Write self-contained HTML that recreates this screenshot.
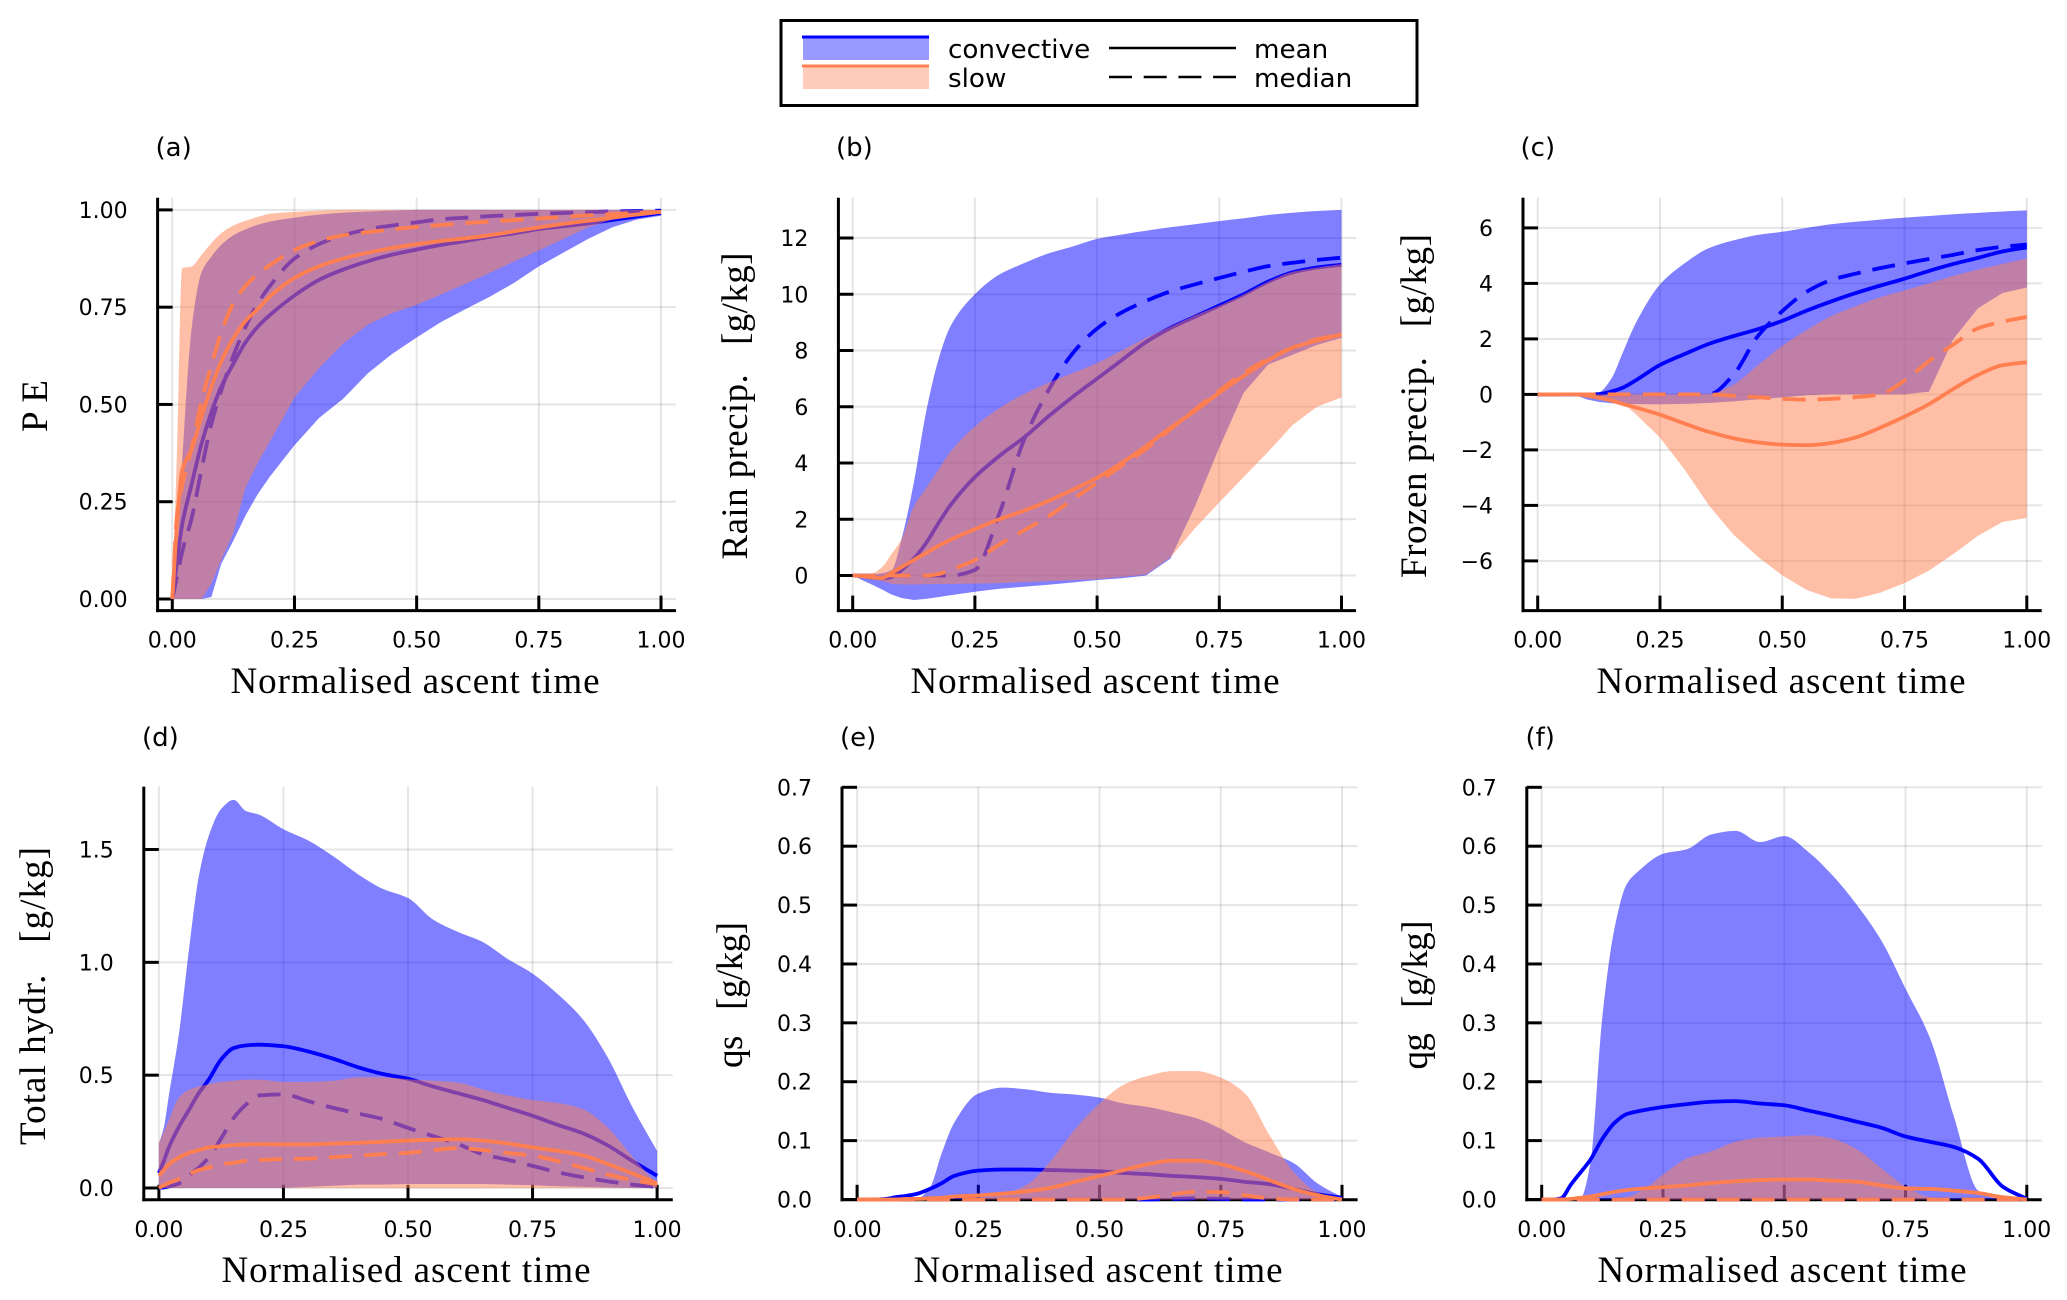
<!DOCTYPE html>
<html lang="en">
<head>
<meta charset="utf-8">
<title>Normalised ascent time composites</title>
<style>
html,body{margin:0;padding:0;background:#fff;}
svg{display:block;}
.tick{font-family:"DejaVu Sans","Liberation Sans",sans-serif;font-size:22px;fill:#000;}
.panel-letter{font-family:"DejaVu Sans","Liberation Sans",sans-serif;font-size:26px;fill:#000;}
.legend-text{font-family:"DejaVu Sans","Liberation Sans",sans-serif;font-size:26.2px;fill:#000;}
.axis-title{font-family:"Liberation Serif",serif;font-size:37px;fill:#000;}
</style>
</head>
<body>
<svg id="figure" xmlns="http://www.w3.org/2000/svg" width="2067" height="1300" viewBox="0 0 2067 1300">
<rect x="0" y="0" width="2067" height="1300" fill="#fff"/>

<g>
  <rect x="781" y="20.5" width="636" height="85" fill="#fff" stroke="#000" stroke-width="3"/>
  <rect x="803" y="37" width="126" height="23" fill="#0000ff" fill-opacity="0.4"/>
  <line x1="802" y1="37" x2="929" y2="37" stroke="#0000ff" stroke-width="3"/>
  <rect x="803" y="66" width="126" height="23" fill="#ff7f50" fill-opacity="0.4"/>
  <line x1="802" y1="66" x2="929" y2="66" stroke="#ff7f50" stroke-width="3"/>
  <text class="legend-text" x="948" y="58">convective</text>
  <text class="legend-text" x="948" y="87">slow</text>
  <line x1="1109" y1="48" x2="1236" y2="48" stroke="#000" stroke-width="2.5"/>
  <line x1="1109" y1="77" x2="1236" y2="77" stroke="#000" stroke-width="2.5" stroke-dasharray="23 11.7"/>
  <text class="legend-text" x="1254" y="58">mean</text>
  <text class="legend-text" x="1254" y="87">median</text>
</g>

<g id="panel-a"></g>
<g id="panel-b"></g>
<g id="panel-c"></g>
<g id="panel-d"></g>
<g id="panel-e"></g>
<g id="panel-f"></g>

<g>
  <text class="panel-letter" x="155.5" y="156">(a)</text>
  <text class="panel-letter" x="836" y="156">(b)</text>
  <text class="panel-letter" x="1520.5" y="156">(c)</text>
  <text class="panel-letter" x="142" y="746">(d)</text>
  <text class="panel-letter" x="840" y="746">(e)</text>
  <text class="panel-letter" x="1525.5" y="746">(f)</text>
</g>

<g>
  <text class="axis-title" x="415" y="693" text-anchor="middle" textLength="369" lengthAdjust="spacing">Normalised ascent time</text>
  <text class="axis-title" x="1095" y="693" text-anchor="middle" textLength="369" lengthAdjust="spacing">Normalised ascent time</text>
  <text class="axis-title" x="1781" y="693" text-anchor="middle" textLength="369" lengthAdjust="spacing">Normalised ascent time</text>
  <text class="axis-title" x="406" y="1282" text-anchor="middle" textLength="369" lengthAdjust="spacing">Normalised ascent time</text>
  <text class="axis-title" x="1098" y="1282" text-anchor="middle" textLength="369" lengthAdjust="spacing">Normalised ascent time</text>
  <text class="axis-title" x="1782" y="1282" text-anchor="middle" textLength="369" lengthAdjust="spacing">Normalised ascent time</text>
</g>

<g>
  <text class="axis-title" transform="translate(47 406) rotate(-90)" text-anchor="middle" textLength="52" lengthAdjust="spacing">PE</text>
  <text class="axis-title" transform="translate(747 406) rotate(-90)" text-anchor="middle" textLength="307" lengthAdjust="spacing" xml:space="preserve">Rain precip.   [g/kg]</text>
  <text class="axis-title" transform="translate(1426 406) rotate(-90)" text-anchor="middle" textLength="344" lengthAdjust="spacing" xml:space="preserve">Frozen precip.   [g/kg]</text>
  <text class="axis-title" transform="translate(45 996) rotate(-90)" text-anchor="middle" textLength="298" lengthAdjust="spacing" xml:space="preserve">Total hydr.   [g/kg]</text>
  <text class="axis-title" transform="translate(742 995) rotate(-90)" text-anchor="middle" textLength="146" lengthAdjust="spacing" xml:space="preserve">qs   [g/kg]</text>
  <text class="axis-title" transform="translate(1427 995) rotate(-90)" text-anchor="middle" textLength="149" lengthAdjust="spacing" xml:space="preserve">qg   [g/kg]</text>
</g>
</svg>

<script>
// Shared normalised ascent time samples
const timeGrid = [0,.01,.02,.04,.06,.08,.1,.125,.15,.175,.2,.25,.3,.35,.4,.45,.5,.55,.6,.65,.7,.75,.8,.85,.9,.95,1];
const xTickValues = [0,.25,.5,.75,1];
const xTickLabels = ['0.00','0.25','0.50','0.75','1.00'];

// Panel (a) PE
const aTickValues = [0,.25,.5,.75,1];
const aTickLabels = ['0.00','0.25','0.50','0.75','1.00'];
const aConvHi = [0,.12,.35,.70,.84,.88,.91,.935,.95,.962,.97,.98,.988,.993,.996,.998,1,1,1,1,1,1,1,1,1,1,1];
const aConvLo = [0,0,0,0,0,.005,.09,.15,.215,.27,.315,.395,.465,.515,.58,.63,.672,.712,.745,.777,.813,.855,.89,.925,.955,.975,.985];
const aConvMean = [0,.10,.19,.297,.40,.48,.545,.605,.66,.70,.73,.78,.82,.847,.868,.885,.898,.91,.92,.931,.94,.951,.958,.965,.974,.983,.992];
const aConvMedian = [0,.06,.12,.21,.335,.45,.535,.625,.70,.76,.805,.875,.912,.935,.95,.96,.968,.976,.98,.984,.987,.99,.992,.994,.996,.997,.998];
const aSlowHi = [0,.4,.85,.855,.885,.915,.94,.96,.972,.982,.99,.995,.998,1,1,1,1,1,1,1,1,1,1,1,1,1,1];
const aSlowLo = [0,0,0,0,0,.04,.10,.17,.287,.35,.405,.518,.593,.657,.705,.735,.756,.783,.81,.838,.868,.896,.925,.955,.975,.988,.995];
const aSlowMean = [0,.2,.33,.385,.47,.545,.61,.67,.715,.745,.778,.825,.855,.875,.89,.902,.912,.92,.927,.935,.945,.955,.964,.972,.98,.988,.995];
const aSlowMedian = [0,.22,.29,.39,.51,.60,.685,.76,.805,.835,.858,.897,.92,.935,.943,.95,.956,.961,.966,.97,.974,.978,.982,.986,.989,.992,.995];

// Panel (b) Rain precip.
const bTickValues = [0,2,4,6,8,10,12];
const bTickLabels = ['0','2','4','6','8','10','12'];
const bConvHi = [0,0,0,.03,.08,.2,1.3,3.3,5.8,7.65,8.86,10,10.7,11.1,11.45,11.7,11.97,12.12,12.26,12.38,12.49,12.6,12.7,12.82,12.9,12.96,13];
const bConvLo = [0,-.08,-.17,-.33,-.5,-.68,-.8,-.87,-.83,-.77,-.7,-.58,-.47,-.4,-.33,-.25,-.16,-.1,0,.6,2.45,4.55,6.5,7.5,7.85,8.2,8.45];
const bConvMean = [0,-.01,-.03,-.07,-.1,-.05,.2,.6,1.15,1.85,2.5,3.5,4.25,4.9,5.65,6.35,7,7.65,8.3,8.8,9.2,9.6,10,10.45,10.78,10.95,11.05];
const bConvMedian = [0,0,0,0,0,0,0,0,0,0,0,.2,2.2,4.8,6.57,7.9,8.78,9.35,9.76,10.1,10.35,10.58,10.8,11,11.12,11.22,11.3];
const bSlowHi = [0,.02,.04,.07,.3,.78,1.3,2.45,3.1,3.75,4.4,5.3,5.95,6.45,6.85,7.2,7.55,8,8.45,8.85,9.25,9.6,10,10.45,10.8,10.95,11.07];
const bSlowLo = [0,-.03,-.07,-.13,-.2,-.3,-.32,-.32,-.31,-.3,-.3,-.29,-.27,-.24,-.2,-.17,-.13,-.05,.03,.65,1.67,2.6,3.5,4.4,5.35,6,6.33];
const bSlowMean = [0,-.01,-.03,-.07,-.09,.1,.3,.55,.8,1.05,1.27,1.65,2,2.3,2.65,3.05,3.47,4,4.6,5.25,5.85,6.5,7.1,7.65,8.1,8.35,8.57];
const bSlowMedian = [0,0,0,0,0,0,0,0,0,.05,.2,.55,1.1,1.6,2.1,2.7,3.3,3.9,4.5,5.2,5.9,6.57,7.2,7.7,8.1,8.4,8.57];

// Panel (c) Frozen precip.
const cTickValues = [-6,-4,-2,0,2,4,6];
const cTickLabels = ['\u22126','\u22124','\u22122','0','2','4','6'];
const cConvHi = [0,0,0,0,0,0,0,.07,.55,1.55,2.55,3.96,4.72,5.27,5.55,5.75,5.86,6,6.13,6.22,6.3,6.37,6.43,6.49,6.54,6.59,6.63];
const cConvLo = [0,0,0,-.01,-.02,-.05,-.18,-.27,-.32,-.34,-.35,-.36,-.34,-.31,-.25,-.18,-.11,-.03,0,0,0,0,.1,2,3.1,3.65,3.85];
const cConvMean = [0,0,0,0,0,0,0,.01,.1,.25,.5,1.06,1.45,1.82,2.1,2.35,2.65,3.02,3.35,3.65,3.92,4.17,4.45,4.7,4.92,5.15,5.3];
const cConvMedian = [0,0,0,0,0,0,0,0,0,0,0,0,0,0,.7,2.1,3,3.7,4.12,4.35,4.55,4.72,4.88,5.03,5.2,5.32,5.4];
const cSlowHi = [0,0,0,0,0,0,0,0,0,0,0,0,0,.02,.35,1.05,1.75,2.32,2.82,3.18,3.5,3.75,4,4.27,4.5,4.7,4.9];
const cSlowLo = [0,0,0,0,0,-.02,-.05,-.1,-.2,-.33,-.7,-1.56,-2.7,-4,-5.05,-5.85,-6.52,-7.05,-7.35,-7.37,-7.15,-6.8,-6.35,-5.75,-5.1,-4.6,-4.45];
const cSlowMean = [0,0,0,0,0,0,-.05,-.12,-.22,-.35,-.47,-.73,-1.05,-1.35,-1.58,-1.73,-1.81,-1.83,-1.75,-1.55,-1.2,-.8,-.35,.2,.7,1.05,1.16];
const cSlowMedian = [0,0,0,0,0,0,0,0,0,0,0,0,0,0,-.05,-.1,-.16,-.19,-.16,-.1,0,.5,1.2,1.8,2.38,2.62,2.79];

// Panel (d) Total hydr.
const dTickValues = [0,.5,1,1.5];
const dTickLabels = ['0.0','0.5','1.0','1.5'];
const dConvHi = [.197,.27,.41,.68,1.05,1.38,1.56,1.68,1.72,1.67,1.655,1.59,1.54,1.47,1.39,1.325,1.285,1.19,1.135,1.09,1.015,.95,.86,.75,.582,.36,.164];
const dConvLo = [0,0,0,0,0,0,0,0,0,0,0,0,.005,.01,.015,.015,.018,.018,.018,.018,.015,.012,.008,.005,.002,0,0];
const dConvMean = [.066,.12,.18,.27,.345,.42,.48,.57,.62,.632,.635,.628,.605,.573,.535,.505,.484,.45,.42,.39,.355,.32,.28,.243,.19,.12,.054];
const dConvMedian = [0,.003,.007,.02,.055,.09,.135,.22,.31,.37,.41,.415,.385,.355,.33,.305,.266,.23,.195,.15,.125,.098,.07,.048,.03,.015,.005];
const dSlowHi = [.2,.25,.3,.4,.435,.45,.46,.47,.475,.48,.48,.47,.47,.475,.49,.49,.482,.475,.467,.437,.41,.39,.377,.35,.27,.14,.016];
const dSlowLo = [0,0,0,0,0,0,0,0,0,0,0,0,0,0,0,0,0,0,0,0,0,0,0,0,0,0,0];
const dSlowMean = [.054,.08,.105,.135,.155,.168,.18,.185,.19,.193,.194,.193,.193,.197,.2,.205,.21,.214,.216,.21,.197,.18,.165,.145,.107,.065,.021];
const dSlowMedian = [0,.012,.022,.04,.06,.08,.09,.105,.112,.12,.124,.128,.13,.137,.143,.15,.156,.167,.177,.168,.155,.143,.12,.09,.06,.035,.016];

// Panel (e) qs
const eTickValues = [0,.1,.2,.3,.4,.5,.6,.7];
const eTickLabels = ['0.0','0.1','0.2','0.3','0.4','0.5','0.6','0.7'];
const eConvHi = [0,0,0,0,0,0,0,.002,.02,.08,.13,.18,.19,.187,.181,.178,.173,.163,.157,.148,.138,.12,.097,.08,.062,.027,.004];
const eConvLo = [0,0,0,0,0,0,0,0,0,0,0,0,0,0,0,0,0,0,0,0,0,0,0,0,0,0,0];
const eConvMean = [0,0,0,0,.001,.004,.006,.01,.018,.028,.04,.049,.051,.051,.05,.049,.048,.045,.043,.04,.038,.035,.03,.026,.018,.009,.003];
const eConvMedian = [0,0,0,0,0,0,0,0,0,0,0,0,0,0,0,0,0,0,0,.001,.002,.001,0,0,0,0,0];
const eSlowHi = [0,0,0,0,0,0,0,0,0,0,0,.002,.009,.025,.066,.12,.163,.195,.21,.218,.218,.207,.18,.11,.047,.012,0];
const eSlowLo = [0,0,0,0,0,0,0,0,0,0,0,0,0,0,0,0,0,0,0,0,0,0,0,0,0,0,0];
const eSlowMean = [0,0,0,0,0,0,.001,.001,.002,.003,.005,.007,.01,.014,.02,.03,.04,.05,.06,.066,.066,.06,.048,.033,.018,.007,0];
const eSlowMedian = [0,0,0,0,0,0,0,0,0,0,0,0,0,0,0,0,0,0,.003,.009,.013,.0125,.007,.002,0,0,0];

// Panel (f) qg
const fTickValues = [0,.1,.2,.3,.4,.5,.6,.7];
const fTickLabels = ['0.0','0.1','0.2','0.3','0.4','0.5','0.6','0.7'];
const fConvHi = [0,0,0,0,0,.002,.06,.31,.46,.535,.558,.587,.595,.62,.626,.607,.617,.59,.55,.5,.44,.358,.275,.14,.015,0,0];
const fConvLo = [0,0,0,0,0,0,0,0,0,0,0,0,0,0,0,0,0,0,0,0,0,0,0,0,0,0,0];
const fConvMean = [0,0,0,.002,.025,.046,.067,.103,.13,.145,.15,.157,.162,.166,.167,.163,.16,.151,.142,.132,.122,.107,.098,.089,.069,.022,.001];
const fConvMedian = [0,0,0,0,0,0,0,0,0,0,0,0,0,0,0,0,0,0,0,0,0,0,0,0,0,0,0];
const fSlowHi = [0,0,0,0,0,0,0,0,0,.004,.012,.042,.07,.082,.098,.105,.107,.109,.103,.085,.053,.022,.004,0,0,0,0];
const fSlowLo = [0,0,0,0,0,0,0,0,0,0,0,0,0,0,0,0,0,0,0,0,0,0,0,0,0,0,0];
const fSlowMean = [0,0,0,0,.001,.003,.005,.009,.013,.016,.018,.021,.024,.028,.031,.033,.034,.034,.032,.03,.024,.019,.018,.015,.011,.004,0];
const fSlowMedian = [0,0,0,0,0,0,0,0,0,0,0,0,0,0,0,0,0,0,0,0,0,0,0,0,0,0,0];

const NS = 'http://www.w3.org/2000/svg';
const BLUE = '#0000ff';
const CORAL = '#ff7f50';

function make(tag, attrs, parent) {
  const el = document.createElementNS(NS, tag);
  for (const k in attrs) el.setAttribute(k, attrs[k]);
  parent.appendChild(el);
  return el;
}

// Monotone cubic tangents so curves stay smooth without overshooting the read values.
function tangents(xs, ys) {
  const n = xs.length;
  const s = [];
  for (let i = 0; i < n - 1; i++) s.push((ys[i + 1] - ys[i]) / (xs[i + 1] - xs[i]));
  const m = [s[0]];
  for (let i = 1; i < n - 1; i++) {
    if (s[i - 1] * s[i] <= 0) { m.push(0); continue; }
    const h0 = xs[i] - xs[i - 1];
    const h1 = xs[i + 1] - xs[i];
    const w0 = 2 * h1 + h0;
    const w1 = h1 + 2 * h0;
    m.push((w0 + w1) / (w0 / s[i - 1] + w1 / s[i]));
  }
  m.push(s[n - 2]);
  return m;
}

function curveSegments(xs, ys) {
  const m = tangents(xs, ys);
  let d = '';
  for (let i = 0; i < xs.length - 1; i++) {
    const h = (xs[i + 1] - xs[i]) / 3;
    d += 'C' + (xs[i] + h).toFixed(2) + ' ' + (ys[i] + m[i] * h).toFixed(2) + ' ' +
         (xs[i + 1] - h).toFixed(2) + ' ' + (ys[i + 1] - m[i + 1] * h).toFixed(2) + ' ' +
         xs[i + 1].toFixed(2) + ' ' + ys[i + 1].toFixed(2);
  }
  return d;
}

function linePath(xf, yf, vals) {
  const xs = timeGrid.map(xf);
  const ys = vals.map(yf);
  return 'M' + xs[0].toFixed(2) + ' ' + ys[0].toFixed(2) + curveSegments(xs, ys);
}

function bandPath(xf, yf, hi, lo) {
  const xs = timeGrid.map(xf);
  const loY = lo.map(yf);
  const last = xs.length - 1;
  let d = linePath(xf, yf, hi);
  d += 'L' + xs[last].toFixed(2) + ' ' + loY[last].toFixed(2);
  for (let i = last; i > 0; i--) {
    d += 'L' + xs[i - 1].toFixed(2) + ' ' + loY[i - 1].toFixed(2);
  }
  return d + 'Z';
}

function drawPanel(p) {
  const g = document.getElementById('panel-' + p.id);
  const xf = function (t) { return p.xAt0 + t * (p.xAt1 - p.xAt0); };
  const yf = function (v) { return p.yA + (v - p.vA) * (p.yB - p.yA) / (p.vB - p.vA); };

  p.yTicks.forEach(function (v, i) {
    const y = yf(v);
    const grid = make('line', {x1: p.left, x2: p.right, y1: y, y2: y, stroke: '#000', 'stroke-opacity': .1, 'stroke-width': 2}, g);
    
    
    const tick = make('line', {x1: p.left, x2: p.left + 15, y1: y, y2: y, stroke: '#000', 'stroke-width': 3}, g);
    
    
    const label = make('text', {x: p.left - 30, y: y + 8, 'text-anchor': 'end', class: 'tick'}, g);
    label.textContent = p.yLabels[i];
    
    
  });

  xTickValues.forEach(function (t, i) {
    const x = xf(t);
    const grid = make('line', {x1: x, x2: x, y1: p.top, y2: p.bottom, stroke: '#000', 'stroke-opacity': .1, 'stroke-width': 2}, g);
    
    
    const tick = make('line', {x1: x, x2: x, y1: p.bottom - 15, y2: p.bottom, stroke: '#000', 'stroke-width': 3}, g);
    
    
    const label = make('text', {x: x, y: p.bottom + 37, 'text-anchor': 'middle', class: 'tick'}, g);
    label.textContent = xTickLabels[i];
    
    
  });

  const spineY = make('line', {x1: p.left, x2: p.left, y1: p.top, y2: p.bottom + 1.5, stroke: '#000', 'stroke-width': 3}, g);
  
  
  const spineX = make('line', {x1: p.left - 1.5, x2: p.right, y1: p.bottom, y2: p.bottom, stroke: '#000', 'stroke-width': 3}, g);
  
  

  const convBand = make('path', {d: bandPath(xf, yf, p.convHi, p.convLo), fill: BLUE, 'fill-opacity': .5}, g);
  
  
  const convMean = make('path', {d: linePath(xf, yf, p.convMean), fill: 'none', stroke: BLUE, 'stroke-width': 3.8, 'stroke-linejoin': 'round'}, g);
  
  
  const convMedian = make('path', {d: linePath(xf, yf, p.convMedian), fill: 'none', stroke: BLUE, 'stroke-width': 3.8, 'stroke-dasharray': '23 12', 'stroke-linejoin': 'round'}, g);
  
  
  const slowBand = make('path', {d: bandPath(xf, yf, p.slowHi, p.slowLo), fill: CORAL, 'fill-opacity': .5}, g);
  
  
  const slowMean = make('path', {d: linePath(xf, yf, p.slowMean), fill: 'none', stroke: CORAL, 'stroke-width': 3.8, 'stroke-linejoin': 'round'}, g);
  
  
  const slowMedian = make('path', {d: linePath(xf, yf, p.slowMedian), fill: 'none', stroke: CORAL, 'stroke-width': 3.8, 'stroke-dasharray': '23 12', 'stroke-linejoin': 'round'}, g);
  
  
}

drawPanel({id: 'a', left: 157.6, right: 676, top: 197.7, bottom: 610.6, xAt0: 172.3, xAt1: 661, vA: 0, yA: 599, vB: 1, yB: 209.9,
  yTicks: aTickValues, yLabels: aTickLabels, convHi: aConvHi, convLo: aConvLo, convMean: aConvMean, convMedian: aConvMedian,
  slowHi: aSlowHi, slowLo: aSlowLo, slowMean: aSlowMean, slowMedian: aSlowMedian});
drawPanel({id: 'b', left: 838.4, right: 1356, top: 197.7, bottom: 610.6, xAt0: 852.7, xAt1: 1341.5, vA: 0, yA: 575.5, vB: 12, yB: 238,
  yTicks: bTickValues, yLabels: bTickLabels, convHi: bConvHi, convLo: bConvLo, convMean: bConvMean, convMedian: bConvMedian,
  slowHi: bSlowHi, slowLo: bSlowLo, slowMean: bSlowMean, slowMedian: bSlowMedian});
drawPanel({id: 'c', left: 1523, right: 2041.7, top: 197.7, bottom: 610.6, xAt0: 1537.7, xAt1: 2026.8, vA: -6, yA: 560.9, vB: 6, yB: 227.9,
  yTicks: cTickValues, yLabels: cTickLabels, convHi: cConvHi, convLo: cConvLo, convMean: cConvMean, convMedian: cConvMedian,
  slowHi: cSlowHi, slowLo: cSlowLo, slowMean: cSlowMean, slowMedian: cSlowMedian});
drawPanel({id: 'd', left: 143.8, right: 672.8, top: 786.6, bottom: 1199.8, xAt0: 158.9, xAt1: 657.1, vA: 0, yA: 1188, vB: 1.5, yB: 849.5,
  yTicks: dTickValues, yLabels: dTickLabels, convHi: dConvHi, convLo: dConvLo, convMean: dConvMean, convMedian: dConvMedian,
  slowHi: dSlowHi, slowLo: dSlowLo, slowMean: dSlowMean, slowMedian: dSlowMedian});
drawPanel({id: 'e', left: 842, right: 1357.6, top: 786.6, bottom: 1199.8, xAt0: 857.1, xAt1: 1342, vA: 0, yA: 1199.5, vB: .7, yB: 787.3,
  yTicks: eTickValues, yLabels: eTickLabels, convHi: eConvHi, convLo: eConvLo, convMean: eConvMean, convMedian: eConvMedian,
  slowHi: eSlowHi, slowLo: eSlowLo, slowMean: eSlowMean, slowMedian: eSlowMedian});
drawPanel({id: 'f', left: 1526.8, right: 2041.7, top: 786.6, bottom: 1199.8, xAt0: 1541.7, xAt1: 2026.8, vA: 0, yA: 1199.5, vB: .7, yB: 787.3,
  yTicks: fTickValues, yLabels: fTickLabels, convHi: fConvHi, convLo: fConvLo, convMean: fConvMean, convMedian: fConvMedian,
  slowHi: fSlowHi, slowLo: fSlowLo, slowMean: fSlowMean, slowMedian: fSlowMedian});
</script>
</body>
</html>
